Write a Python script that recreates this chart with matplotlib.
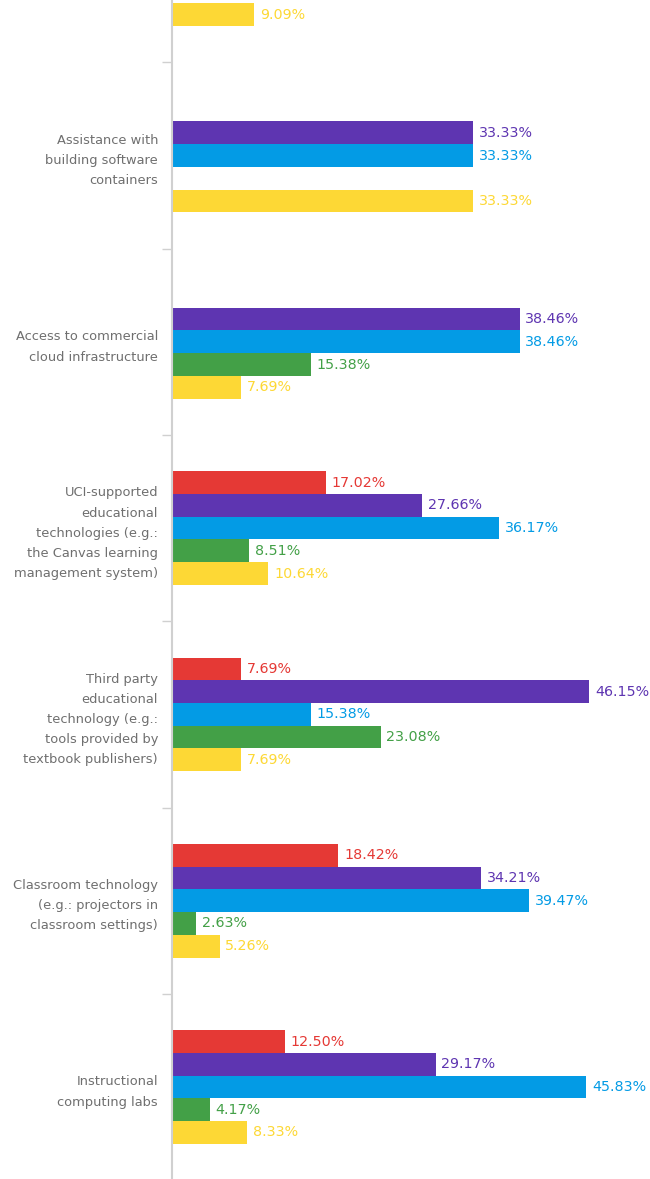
import numpy as np
import matplotlib
matplotlib.use("Agg")
import matplotlib.pyplot as plt

plt.rcParams['font.family'] = ['DejaVu Sans']

# categories from bottom to top (the top one is cut off in the original)
categories = [
    "Instructional\ncomputing labs",
    "Classroom technology\n(e.g.: projectors in\nclassroom settings)",
    "Third party\neducational\ntechnology (e.g.:\ntools provided by\ntextbook publishers)",
    "UCI-supported\neducational\ntechnologies (e.g.:\nthe Canvas learning\nmanagement system)",
    "Access to commercial\ncloud infrastructure",
    "Assistance with\nbuilding software\ncontainers",
    "",
]

# values in %, None = no bar
red    = [12.50, 18.42, 7.69, 17.02, None, None, None]
purple = [29.17, 34.21, 46.15, 27.66, 38.46, 33.33, None]
blue   = [45.83, 39.47, 15.38, 36.17, 38.46, 33.33, None]
green  = [4.17, 2.63, 23.08, 8.51, 15.38, None, None]
yellow = [8.33, 5.26, 7.69, 10.64, 7.69, 33.33, 9.09]

series = [red, purple, blue, green, yellow]
colors = ['#E53935', '#5E35B1', '#039BE5', '#43A047', '#FDD835']

fig = plt.figure(figsize=(6.5, 11.79), dpi=100)
ax = fig.add_axes([172 / 650, 0, 478 / 650, 1])

y = np.arange(len(categories))
h = 0.122
offsets = [2 * h, h, 0, -h, -2 * h]

for vals, off, c in zip(series, offsets, colors):
    for i, v in enumerate(vals):
        if v is None:
            continue
        ax.barh(y[i] + off, v, height=h, color=c, linewidth=0)
        ax.text(v + 0.65, y[i] + off, f"{v:.2f}%", color=c, fontsize=10.3,
                va='center', ha='left')

ax.set_yticks(y)
ax.set_yticklabels(categories, fontsize=9.4, color='#6f6f6f', linespacing=1.72)
ax.set_yticks(y[:-1] + 0.5, minor=True)
ax.tick_params(axis='y', which='major', length=0, pad=10)
ax.tick_params(axis='y', which='minor', length=7, width=1, color='#d0d0d0')
ax.set_xticks([])

# limits after the ticks, so the top group stays cut off
ax.set_xlim(0, 52.9)
ax.set_ylim(-0.494, 5.835)

for s in ['top', 'right', 'bottom']:
    ax.spines[s].set_visible(False)
ax.spines['left'].set_color('#d0d0d0')
ax.spines['left'].set_linewidth(1.5)

fig.savefig("out.png", dpi=100)
